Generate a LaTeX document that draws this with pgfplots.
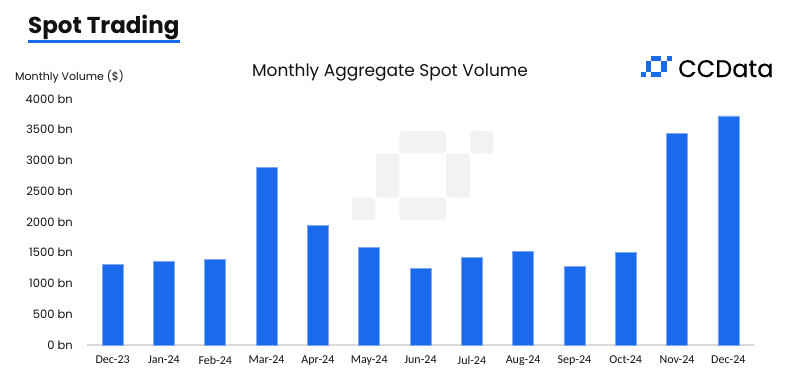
\documentclass[border=0pt]{standalone}
\usepackage{fontspec}
\setmainfont{Poppins}
\newfontfamily\carlito{Carlito}
\usepackage{pgfplots}
\pgfplotsset{compat=1.18}
\definecolor{barblue}{HTML}{1A6BEB}
\definecolor{baredge}{HTML}{7FA8F0}
\definecolor{axisgray}{HTML}{D9D9D9}
\definecolor{wm}{HTML}{F2F2F2}
\definecolor{txt}{HTML}{111111}
\begin{document}
\begin{tikzpicture}
\useasboundingbox (0pt,0pt) rectangle (790pt,-384pt);
% watermark
\begin{scope}[fill=wm]
\fill[rounded corners=3pt] (399.3pt,-131pt) rectangle (446pt,-153.3pt);
\fill[rounded corners=3pt] (470.5pt,-131pt) rectangle (493.3pt,-153.3pt);
\fill[rounded corners=3pt] (376pt,-153.3pt) rectangle (399.3pt,-197.7pt);
\fill[rounded corners=3pt] (446pt,-153.3pt) rectangle (470pt,-197.7pt);
\fill[rounded corners=3pt] (399.3pt,-197.7pt) rectangle (446pt,-220pt);
\fill[rounded corners=3pt] (352pt,-197.7pt) rectangle (375.3pt,-220pt);
\end{scope}
% logo icon
\begin{scope}[fill=barblue,shift={(641pt,-56pt)}]
\fill (10.2pt,0pt) rectangle (20.4pt,-5.2pt);
\fill (25.5pt,0pt) rectangle (30.6pt,-5.2pt);
\fill (5.1pt,-5.2pt) rectangle (10.2pt,-15.6pt);
\fill (20.4pt,-5.2pt) rectangle (25.5pt,-15.6pt);
\fill (10.2pt,-15.6pt) rectangle (20.4pt,-20.8pt);
\fill (0pt,-15.6pt) rectangle (5.1pt,-20.8pt);
\end{scope}
\node[anchor=base west,inner sep=0pt,font=\fontsize{24}{28}\selectfont\addfontfeature{FakeBold=0.3},text=black] at (678pt,-77pt) {CCData};
% headline
\node[anchor=base west,inner sep=0pt,font=\fontsize{23}{27}\selectfont\bfseries,text=txt] at (28pt,-33.3pt) {Spot Trading};
\fill[barblue] (28pt,-40pt) rectangle (180pt,-43pt);
\node[anchor=base,inner sep=0pt,font=\fontsize{17}{20}\selectfont,text=txt] at (390pt,-76.7pt) {Monthly Aggregate Spot Volume};
\node[anchor=base west,inner sep=0pt,font=\fontsize{11}{13}\selectfont,text=txt] at (15pt,-80pt) {Monthly Volume (\$)};
\begin{axis}[
  at={(87pt,-345pt)}, anchor=south west,
  scale only axis, width=667pt, height=246pt,
  xmin=-0.5, xmax=12.5, ymin=0, ymax=4000,
  clip=false,
  axis x line=bottom, axis y line=left,
  x axis line style={draw=axisgray, line width=1.5pt, -},
  y axis line style={draw=none},
  major tick length=0pt,
  xtick=data,
  xticklabels={Dec-23,Jan-24,Feb-24,Mar-24,Apr-24,May-24,Jun-24,Jul-24,Aug-24,Sep-24,Oct-24,Nov-24,Dec-24},
  ytick={0,500,1000,1500,2000,2500,3000,3500,4000},
  yticklabels={0 bn,500 bn,1000 bn,1500 bn,2000 bn,2500 bn,3000 bn,3500 bn,4000 bn},
  x tick label style={anchor=north, inner sep=0pt, yshift=-11pt, font=\carlito\fontsize{12}{14}\selectfont, text=txt},
  y tick label style={anchor=east, inner sep=0pt, xshift=-14pt, font=\fontsize{11.5}{13}\selectfont, text=txt},
]
\addplot[ybar, bar width=21pt, fill=barblue, draw=baredge, line width=0.6pt] coordinates {
(0,1312) (1,1355) (2,1393) (3,2889) (4,1946) (5,1583) (6,1252)
(7,1431) (8,1523) (9,1274) (10,1501) (11,3436) (12,3724)
};
\end{axis}
\end{tikzpicture}
\end{document}
